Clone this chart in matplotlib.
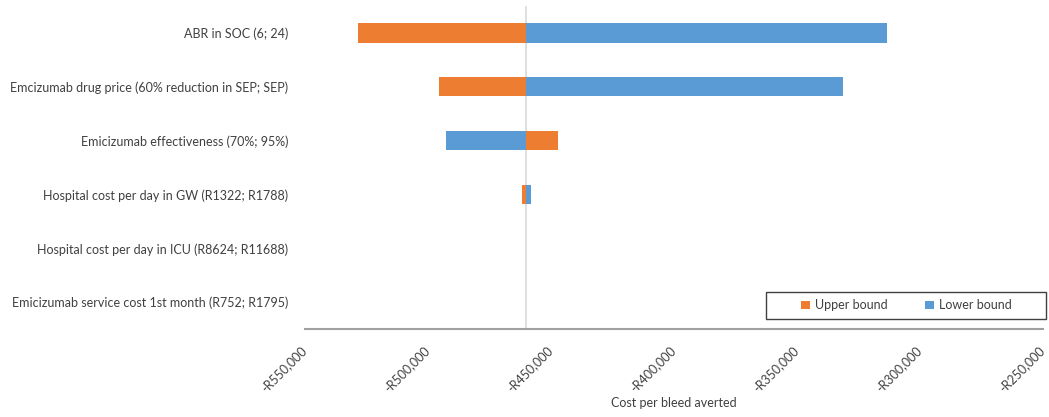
#!/usr/bin/env python3
"""Tornado chart: one-way sensitivity of cost per bleed averted."""
import matplotlib
matplotlib.use("Agg")
import matplotlib.pyplot as plt
from matplotlib.patches import Rectangle
from matplotlib.ticker import FuncFormatter

params = [
    "ABR in SOC (6; 24)",
    "Emcizumab drug price (60% reduction in SEP; SEP)",
    "Emicizumab effectiveness (70%; 95%)",
    "Hospital cost per day in GW (R1322; R1788)",
    "Hospital cost per day in ICU (R8624; R11688)",
    "Emicizumab service cost 1st month (R752; R1795)",
]
base_value = -460000
upper_vals = [-528500, -495500, -447000, -461800, -460000, -460000]
lower_vals = [-313500, -331500, -492500, -458300, -460000, -460000]
x_ticks = [-550000, -500000, -450000, -400000, -350000, -300000, -250000]

ORANGE = "#ED7D31"
BLUE = "#5B9BD5"
TEXT = "#404040"

plt.rcParams["font.family"] = ["Lato", "DejaVu Sans"]

fig = plt.figure(figsize=(10.49, 4.17), dpi=100)
ax = fig.add_axes([305 / 1049, 1 - 329 / 417, 738 / 1049, 323 / 417])

ypos = list(range(len(params)))
h = 0.36
ax.barh(ypos, [u - base_value for u in upper_vals], left=base_value, height=h,
        color=ORANGE, linewidth=0, label="Upper bound")
ax.barh(ypos, [l - base_value for l in lower_vals], left=base_value, height=h,
        color=BLUE, linewidth=0, label="Lower bound")

ax.axvline(base_value, color="#D9D9D9", linewidth=1.2, zorder=0)

ax.set_xlim(x_ticks[0], x_ticks[-1])
ax.set_ylim(len(params) - 0.5, -0.5)
ax.set_xticks(x_ticks)
ax.xaxis.set_major_formatter(FuncFormatter(lambda v, p: f"-R{abs(int(v)):,}"))
ax.set_yticks(ypos)
ax.set_yticklabels(params)

for s in ("top", "right", "left"):
    ax.spines[s].set_visible(False)
ax.spines["bottom"].set_color("#A0A0A0")
ax.spines["bottom"].set_linewidth(1.5)
ax.tick_params(axis="both", length=0, labelsize=9, labelcolor=TEXT)
ax.tick_params(axis="y", pad=12)
ax.tick_params(axis="x", pad=14)
plt.setp(ax.get_xticklabels(), rotation=45, ha="right", va="center",
         rotation_mode="anchor")
ax.set_xlabel("Cost per bleed averted", fontsize=9, color=TEXT, labelpad=2)

# legend box drawn separately so the frame matches the reference size
x0, y0, w, hh = 0.625, 0.031, 0.379, 0.084
ax.add_patch(Rectangle((x0, y0), w, hh, transform=ax.transAxes, fill=False,
                       edgecolor="#404040", linewidth=1.0, clip_on=False))
ax.legend(loc="center", bbox_to_anchor=(x0 + w / 2, y0 + hh / 2), ncol=2,
          frameon=False, fontsize=9, handlelength=0.7, handleheight=0.7,
          handletextpad=0.4, columnspacing=3.0, labelcolor=TEXT)

fig.savefig("out.png", dpi=100)
